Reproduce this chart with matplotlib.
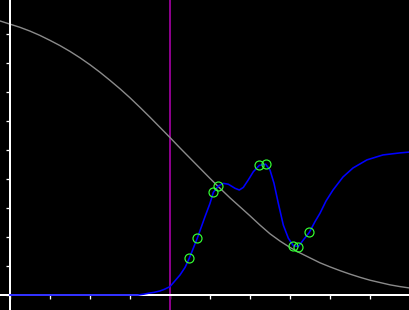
import matplotlib
matplotlib.use("Agg")
import matplotlib.pyplot as plt

# grey decreasing curve
grey_x = [-0.25, 0.0, 0.25, 0.5, 0.75, 1.0, 1.25, 1.5, 1.75, 2.0, 2.25, 2.5,
          2.75, 3.0, 3.25, 3.5, 3.75, 4.0, 4.25, 4.5, 4.75, 5.0, 5.25, 5.5,
          5.75, 6.0, 6.25, 6.5, 6.75, 7.0, 7.25, 7.5, 7.75, 8.0, 8.25, 8.5,
          8.75, 9.0, 9.25, 9.5, 9.75, 10.0]
grey_y = [9.45, 9.34, 9.23, 9.10, 8.95, 8.78, 8.60, 8.40, 8.18, 7.94, 7.68, 7.40,
          7.11, 6.80, 6.47, 6.13, 5.78, 5.43, 5.07, 4.72, 4.37, 4.02, 3.68, 3.35,
          3.04, 2.73, 2.41, 2.11, 1.86, 1.64, 1.45, 1.28, 1.11, 0.97, 0.84, 0.72,
          0.61, 0.51, 0.43, 0.35, 0.29, 0.24]

# blue curve
blue_x = [0.0, 3.0, 3.2, 3.35, 3.5, 3.6, 3.75, 3.85, 4.0, 4.25, 4.375, 4.483,
          4.683, 4.875, 5.0, 5.083, 5.208, 5.333, 5.458, 5.625, 5.733, 5.833,
          5.958, 6.083, 6.233, 6.392, 6.5, 6.6, 6.708, 6.833, 6.958, 7.083,
          7.208, 7.333, 7.483, 7.625, 7.75, 7.9, 8.075, 8.325, 8.575, 8.925,
          9.325, 9.75, 10.0]
blue_y = [0.0, 0.0, 0.0, 0.03, 0.07, 0.09, 0.14, 0.19, 0.29, 0.69, 0.95, 1.27,
          1.96, 2.70, 3.16, 3.54, 3.76, 3.85, 3.82, 3.68, 3.62, 3.71,
          3.97, 4.25, 4.47, 4.51, 4.31, 3.85, 3.16, 2.41, 1.96, 1.70,
          1.67, 1.90, 2.16, 2.53, 2.82, 3.24, 3.62, 4.07, 4.38, 4.66,
          4.83, 4.90, 4.93]

# green sample points
pts_x = [4.483, 4.683, 5.083, 5.208, 6.233, 6.392, 7.083, 7.208, 7.483]
pts_y = [1.27, 1.96, 3.54, 3.76, 4.47, 4.51, 1.70, 1.67, 2.16]

vline_x = 4.0
xticks = list(range(0, 11))
yticks = list(range(0, 10))

px = 0.72  # one pixel in points at dpi 100

fig = plt.figure(figsize=(4.1, 3.1), dpi=100, facecolor="black")
ax = fig.add_axes([0, 0, 1, 1], facecolor="black")
ax.set_xlim(-0.25, 10.0)
ax.set_ylim(-15 / 29, 295 / 29)

ax.plot(grey_x, grey_y, color="#8a8a8a", lw=1.4 * px, zorder=3)
ax.axvline(vline_x, color="#8b008b", lw=2 * px, zorder=2)
ax.plot(blue_x, blue_y, color="#0000ff", lw=1.6 * px, zorder=5)
ax.plot(pts_x, pts_y, "o", ms=9 * px, mfc="none", mec="#33ff33",
        mew=1.2 * px, zorder=6)

for s in ["top", "right"]:
    ax.spines[s].set_visible(False)
for s in ["left", "bottom"]:
    ax.spines[s].set_position(("data", 0))
    ax.spines[s].set_color("white")
    ax.spines[s].set_linewidth(2 * px)
    ax.spines[s].set_zorder(4)

ax.set_xticks(xticks)
ax.set_yticks(yticks)
ax.tick_params(direction="out", length=4 * px, width=1.3 * px, color="white",
               labelbottom=False, labelleft=False)

fig.savefig("out.png", dpi=100, facecolor="black")
